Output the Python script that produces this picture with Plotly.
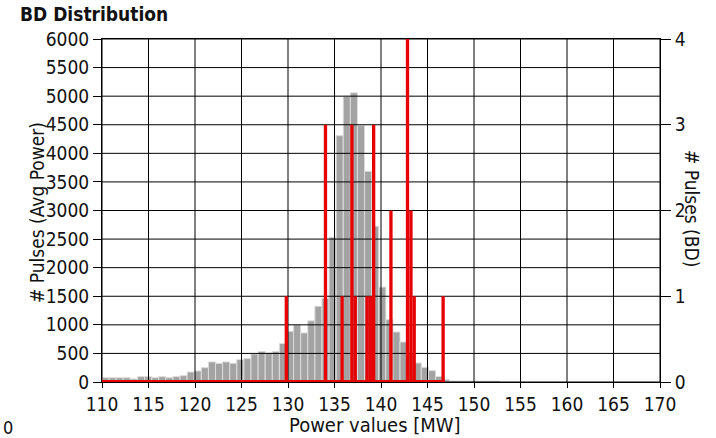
import plotly.graph_objects as go

# Average-power histogram (left axis): fixed-width bins starting at 110 MW
avg_bin_start = 110.0
avg_bin_width = 0.763
avg_counts = [
    75, 75, 75, 75, 53, 94, 94, 75, 94, 75, 94, 111, 175, 193, 251, 351,
    327, 351, 327, 392, 409, 491, 532, 509, 532, 675, 887, 1000, 858, 1070,
    1325, 1463, 2532, 4310, 5000, 5058, 4486, 3687, 2725, 1660, 1091, 875,
    700, 500, 333, 257, 198, 95, 40, 18, 17, 17, 16, 15, 15, 14,
]

# Breakdown pulses (right axis)
bd_power = [129.82, 134.03, 135.82, 136.87, 137.23, 138.50, 138.85,
            139.21, 141.07, 142.85, 143.22, 143.57, 146.68]
bd_counts = [1, 3, 1, 3, 1, 1, 1, 3, 2, 4, 2, 1, 1]
bd_bin_width = 0.357

x_ticks = list(range(110, 171, 5))
y_ticks = list(range(0, 6001, 500))
y2_ticks = [0, 1, 2, 3, 4]

FONT = "DejaVu Sans Condensed, Liberation Sans, sans-serif"
TXT = "#111111"

avg_centers = [avg_bin_start + (i + 0.5) * avg_bin_width for i in range(len(avg_counts))]

fig = go.Figure()

fig.add_trace(go.Bar(
    x=avg_centers, y=avg_counts, width=avg_bin_width,
    marker=dict(color="#a3a3a3", line=dict(color="#dcdcdc", width=1)),
    hoverinfo="skip", showlegend=False,
))

# grid drawn over the grey histogram, under the red one
gx, gy = [], []
for v in y_ticks:
    gx += [x_ticks[0], x_ticks[-1], None]
    gy += [v, v, None]
for v in x_ticks:
    gx += [v, v, None]
    gy += [y_ticks[0], y_ticks[-1], None]
fig.add_trace(go.Scatter(
    x=gx, y=gy, mode="lines", line=dict(color="#000000", width=1),
    hoverinfo="skip", showlegend=False,
))

bd_end = max(bd_power) + bd_bin_width / 2
fig.add_trace(go.Scatter(
    x=[avg_bin_start, bd_end], y=[0, 0], yaxis="y2", mode="lines",
    line=dict(color="#e60000", width=4), hoverinfo="skip", showlegend=False,
))
fig.add_trace(go.Bar(
    x=bd_power, y=bd_counts, width=bd_bin_width, yaxis="y2",
    marker=dict(color="#e60000", line=dict(width=0)),
    hoverinfo="skip", showlegend=False,
))

axis_common = dict(
    showgrid=False, zeroline=False, showline=True, linecolor="#000000",
    linewidth=1, ticks="outside", tickcolor="#000000",
    tickfont=dict(family=FONT, size=19, color=TXT), layer="below traces",
)

fig.update_layout(
    width=716, height=438,
    margin=dict(l=102, r=56, t=39, b=56),
    paper_bgcolor="white", plot_bgcolor="white",
    barmode="overlay", showlegend=False,
    font=dict(family=FONT, size=19, color=TXT),
    title=dict(
        text="<b>BD Distribution</b>", x=20 / 716, xanchor="left",
        xref="container", y=1 - 14 / 438, yanchor="middle", yref="container",
        font=dict(family=FONT, size=19, color=TXT),
    ),
    xaxis=dict(range=[110, 170], tickvals=x_ticks, ticklen=5, mirror=True,
               **axis_common),
    yaxis=dict(range=[0, 6000], tickvals=y_ticks, ticklen=8, **axis_common),
    yaxis2=dict(range=[0, 4], tickvals=y2_ticks, ticklen=10, overlaying="y",
                side="right", **axis_common),
    annotations=[
        dict(text="Power values [MW]", xref="paper", yref="paper",
             x=(375 - 102) / 558, y=(382 - 425) / 343, showarrow=False,
             xanchor="center", yanchor="middle", font=dict(size=20)),
        dict(text="# Pulses (Avg Power)", xref="paper", yref="paper",
             x=(37 - 102) / 558, y=(382 - 213) / 343, showarrow=False,
             textangle=-90, xanchor="center", yanchor="middle",
             font=dict(size=19)),
        dict(text="# Pulses (BD)", xref="paper", yref="paper",
             x=(692 - 102) / 558, y=(382 - 208) / 343, showarrow=False,
             textangle=90, xanchor="center", yanchor="middle",
             font=dict(size=19)),
        dict(text="0", xref="paper", yref="paper",
             x=(1 - 102) / 558, y=(382 - 427) / 343, showarrow=False,
             xanchor="left", yanchor="middle", font=dict(size=18)),
    ],
)

fig.write_html("out.html")
